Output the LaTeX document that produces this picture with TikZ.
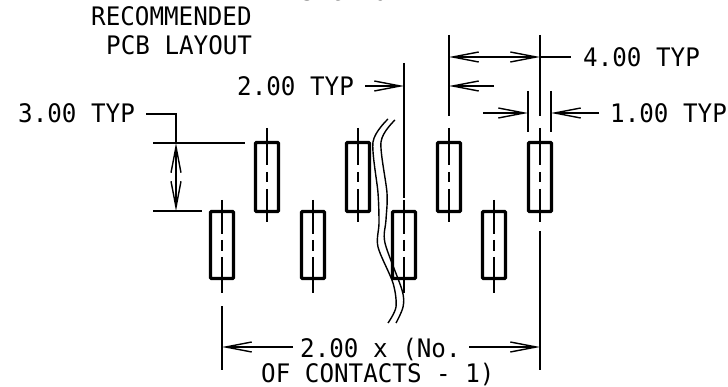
\documentclass[tikz,border=0pt]{standalone}
\usepackage{fontspec}
\usetikzlibrary{arrows.meta}
\newfontfamily\drawfont[FakeStretch=0.95]{DejaVu Sans Mono}

\begin{document}
\begin{tikzpicture}[x=1pt,y=-1pt,
    >={Straight Barb[length=26pt,width=10pt]},
    dim/.style={line width=1.4pt},
    pad/.style={draw,line width=3.4pt,rounded corners=1pt,inner sep=0pt},
    upperpad/.style={pad,minimum width=23pt,minimum height=69pt},
    lowerpad/.style={pad,minimum width=23pt,minimum height=67pt},
    label/.style={inner sep=0pt,font=\drawfont\fontsize{25.5}{26}\selectfont}]
  \useasboundingbox (0,0) rectangle (728,387);

  \node[label,anchor=base west] (title1) at (91,26) {RECOMMENDED};
  \node[label,anchor=base west] (title2) at (106,55) {PCB LAYOUT};
  \node[label,anchor=base west] (section) at (300,1) {SECTION A-A};

  % pads with their centre lines
  \foreach \x/\n in {267/U1,358/U2,449/U3,540/U4} {
    \node[upperpad] (\n) at (\x,177) {};
    \draw[dim] (\x,128) -- (\x,165);
    \draw[dim] (\x,172) -- (\x,182);
    \draw[dim] (\x,189) -- (\x,222);
  }
  \foreach \x/\n in {222/L1,313/L2,404/L3,494/L4} {
    \node[lowerpad] (\n) at (\x,245) {};
    \draw[dim] (\x,200) -- (\x,234);
    \draw[dim] (\x,240) -- (\x,251);
    \draw[dim] (\x,257) -- (\x,293);
  }

  % 3.00
  \node[label,anchor=base west] (pitchy) at (18,123) {3.00 TYP};
  \coordinate (yleft) at (176,114);
  \coordinate (ytop) at (176,143);
  \coordinate (ybot) at (176,211);
  \draw[dim] (146,114) -- (yleft) -- (ytop);
  \draw[dim] (153,143) -- (245,143);
  \draw[dim] (153,211) -- (202,211);
  \draw[dim,<->] (ytop) -- (ybot);

  % 2.00
  \node[label,anchor=base west] (pitchx) at (237,96) {2.00 TYP};
  \coordinate (xa) at (404,86);
  \coordinate (xb) at (449,86);
  \draw[dim] (404,63) -- (404,198);
  \draw[dim,->] (365,86) -- (xa);
  \draw[dim,->] (494,86) -- (xb);

  % 4.00
  \node[label,anchor=base west] (pitch) at (583,67) {4.00 TYP};
  \coordinate (pa) at (449,57);
  \coordinate (pb) at (540,57);
  \draw[dim] (449,35) -- (449,116);
  \draw[dim] (540,35) -- (540,116);
  \draw[dim,<->] (pa) -- (pb);
  \draw[dim] (pb) -- (571,57);

  % 1.00
  \node[label,anchor=base west] (width) at (610,123) {1.00 TYP};
  \coordinate (wa) at (528,113);
  \coordinate (wb) at (551,113);
  \draw[dim] (528,91) -- (528,132);
  \draw[dim] (551,91) -- (551,132);
  \draw[dim,->] (483,113) -- (wa);
  \draw[dim,->] (599,113) -- (wb);

  % overall length
  \node[label,anchor=base west] (total1) at (300,357) {2.00 x (No.};
  \node[label,anchor=base west] (total2) at (261,382) {OF CONTACTS - 1)};
  \coordinate (ta) at (222,347);
  \coordinate (tb) at (540,347);
  \draw[dim] (222,306) -- (222,370);
  \draw[dim] (540,231) -- (540,370);
  \draw[dim,->] (293,347) -- (ta);
  \draw[dim,->] (469,347) -- (tb);

  % break lines
  \draw[dim] plot[smooth] coordinates {(388,119) (373,142) (378,193) (379,223) (378,247) (393,283) (396,307) (388,323)};
  \draw[dim] plot[smooth] coordinates {(395,120) (381,142) (387,193) (386,220) (385,243) (402,290) (403,307) (396,323)};
\end{tikzpicture}
\end{document}
